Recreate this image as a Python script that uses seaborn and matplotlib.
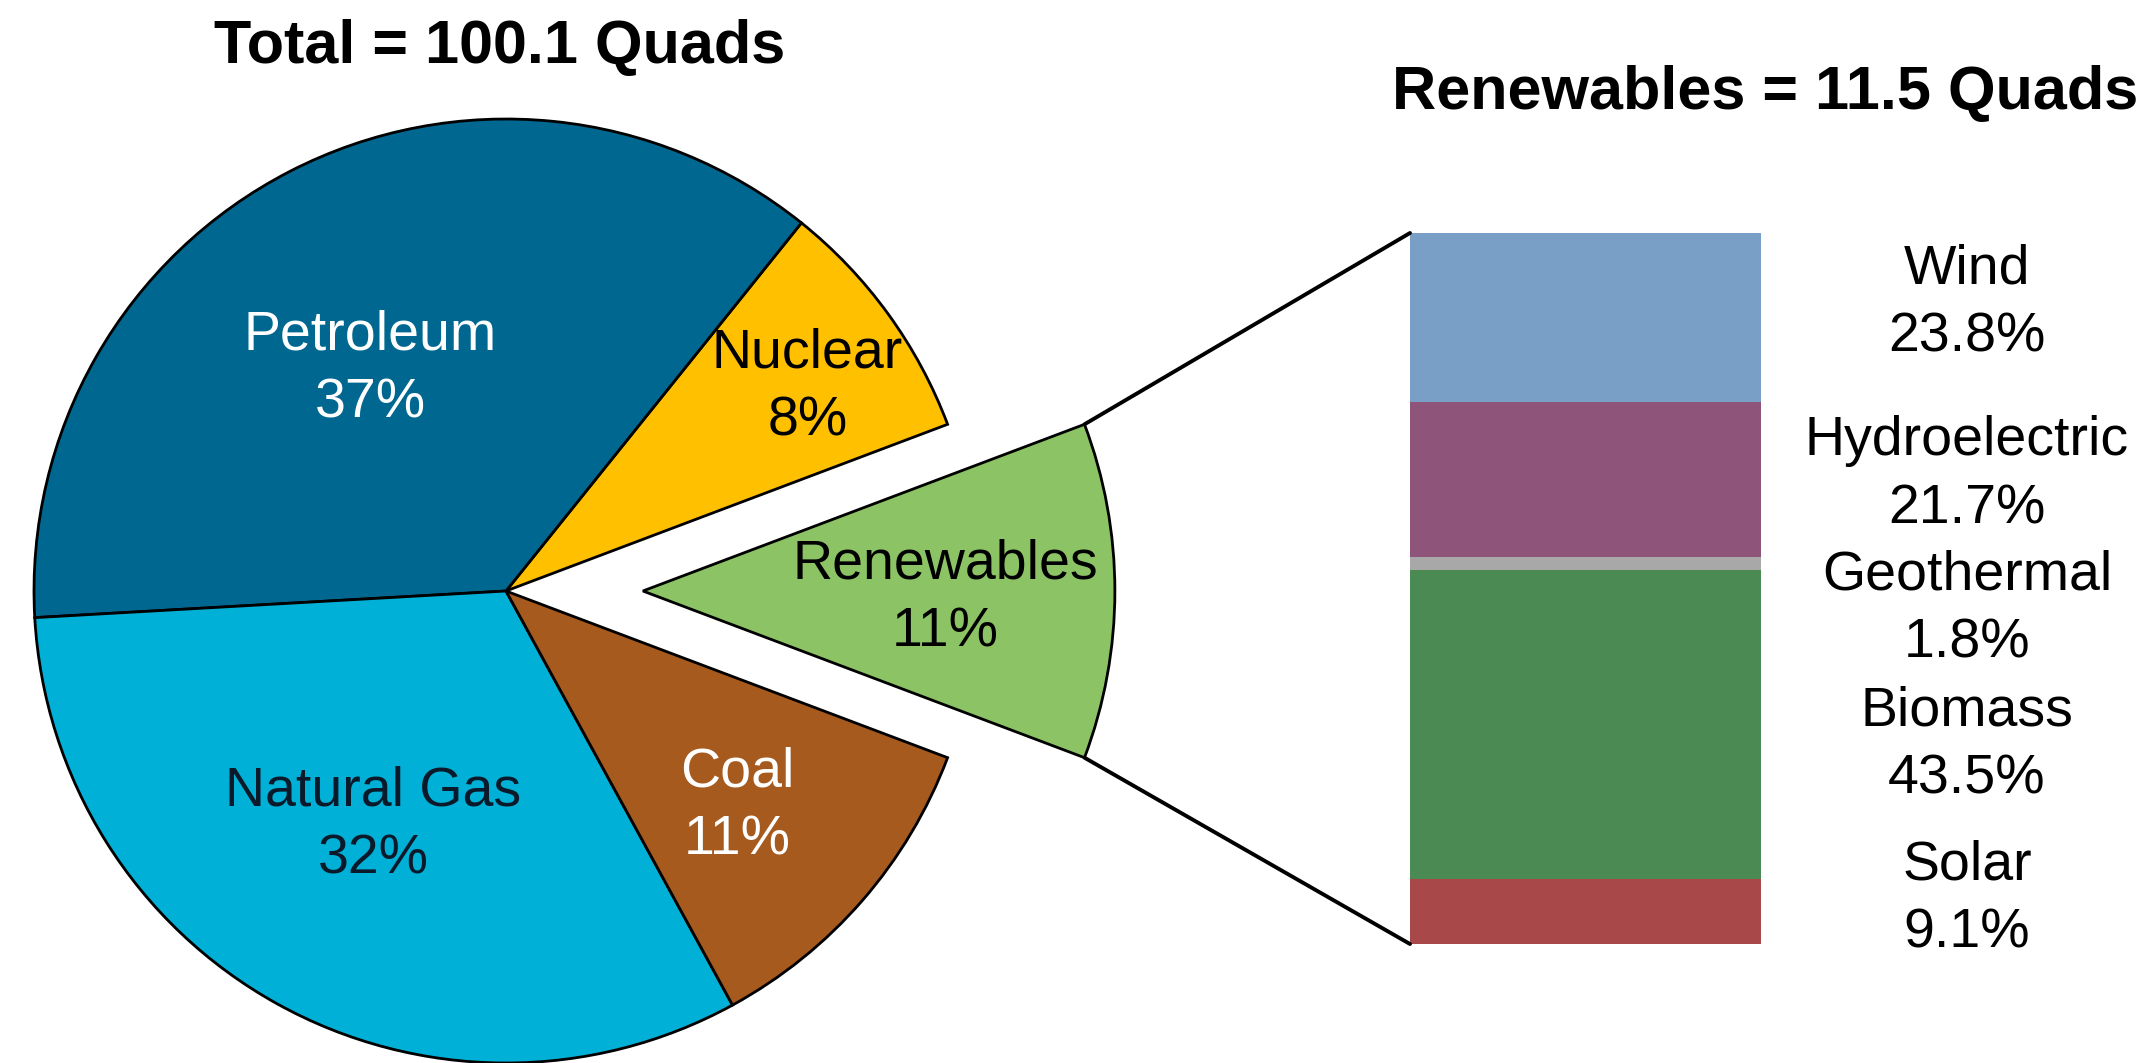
import numpy as np
import matplotlib
matplotlib.use("Agg")
import matplotlib.pyplot as plt
from matplotlib.patches import ConnectionPatch
import seaborn as sns
import pandas as pd

# ---- data ----
pie_labels = ["Renewables", "Nuclear", "Petroleum", "Natural Gas", "Coal"]
pie_values = [11.5, 8.5, 36.7, 32.1, 11.3]          # quads
pie_colors = ["#8CC465", "#FFC000", "#006890", "#00B0D6", "#A65A1E"]
pie_text_colors = ["black", "black", "white", "#0A1A2A", "white"]

ren_labels = ["Wind", "Hydroelectric", "Geothermal", "Biomass", "Solar"]   # top -> bottom
ren_values = [23.8, 21.7, 1.8, 43.5, 9.1]
ren_colors = ["#7A9FC7", "#8E547A", "#A8A8A8", "#4B8A52", "#A84848"]

total_title = "Total = 100.1 Quads"
ren_title = "Renewables = 11.5 Quads"

# ---- layout (pixels) ----
W, H = 2146, 1063
cx, cy, R = 506, 591, 472
explode_r = 0.29
label_r = [0.64, 0.77, 0.55, 0.57, 0.67]
label_da = [-1.5, -2.0, 4.3, -0.5, -2.0]   # angle tweaks (deg)
bar_left, bar_right, bar_top, bar_bottom = 1410, 1761, 233, 944
lab_x = 1967
lab_y = [304, 475, 610, 746, 900]

sns.set_theme(style="white")
plt.rcParams["font.family"] = ["Liberation Sans", "DejaVu Sans"]
plt.rcParams["text.color"] = "black"

fig = plt.figure(figsize=(W / 100, H / 100), dpi=100)

# pie axes covers whole figure, 1 unit = R px
ax = fig.add_axes([0, 0, 1, 1])
total = sum(pie_values)
start = -pie_values[0] / total * 360 / 2
explode = [explode_r] + [0] * (len(pie_values) - 1)
wedges, _ = ax.pie(pie_values, colors=pie_colors, startangle=start, counterclock=True,
                   explode=explode, wedgeprops=dict(edgecolor="black", linewidth=2.0),
                   radius=1.0)
ax.set_aspect("auto")
ax.set_xlim(-cx / R, (W - cx) / R)
ax.set_ylim(-(H - cy) / R, cy / R)
ax.axis("off")

for w, lab, v, r, da, tc, ex in zip(wedges, pie_labels, pie_values, label_r, label_da,
                                    pie_text_colors, explode):
    mid = np.deg2rad((w.theta1 + w.theta2) / 2)
    ox, oy = ex * np.cos(mid), ex * np.sin(mid)
    a = mid + np.deg2rad(da)
    pct = round(v / total * 100)
    ax.text(ox + r * np.cos(a), oy + r * np.sin(a), f"{lab}\n{pct}%",
            ha="center", va="center", fontsize=40, color=tc, linespacing=1.4)

# stacked bar axes
axb = fig.add_axes([bar_left / W, 1 - bar_bottom / H, (bar_right - bar_left) / W,
                    (bar_bottom - bar_top) / H])
df = pd.DataFrame({"source": ren_labels, "value": ren_values})
bottom_up = df.iloc[::-1].reset_index(drop=True)
bottom_up["cum"] = bottom_up["value"].cumsum()
# draw tallest cumulative first so lower segments overlay
for i in range(len(bottom_up) - 1, -1, -1):
    row = bottom_up.iloc[i]
    sns.barplot(x=[0], y=[row["cum"]], color=ren_colors[ren_labels.index(row["source"])],
                width=1.0, ax=axb, saturation=1, linewidth=0)
axb.set_xlim(-0.5, 0.5)
axb.set_ylim(0, bottom_up["cum"].iloc[-1])
axb.axis("off")

for lab, v, y in zip(ren_labels, ren_values, lab_y):
    fig.text(lab_x / W, 1 - y / H, f"{lab}\n{v:.1f}%", ha="center", va="center",
             fontsize=40, color="black", linespacing=1.4)

# connector lines from renewables wedge corners to bar corners
w0 = wedges[0]
mid0 = np.deg2rad((w0.theta1 + w0.theta2) / 2)
ox, oy = explode_r * np.cos(mid0), explode_r * np.sin(mid0)
top_pt = (ox + np.cos(np.deg2rad(w0.theta2)), oy + np.sin(np.deg2rad(w0.theta2)))
bot_pt = (ox + np.cos(np.deg2rad(w0.theta1)), oy + np.sin(np.deg2rad(w0.theta1)))
ymax = bottom_up["cum"].iloc[-1]
for pA, pB in [(top_pt, (-0.5, ymax)), (bot_pt, (-0.5, 0))]:
    con = ConnectionPatch(xyA=pA, coordsA=ax.transData, xyB=pB, coordsB=axb.transData,
                          color="black", linewidth=2.8)
    fig.add_artist(con)

fig.text(500 / W, 1 - 48 / H, total_title, ha="center", va="center", fontsize=44,
         fontweight="bold", color="black")
fig.text(1765 / W, 1 - 93 / H, ren_title, ha="center", va="center", fontsize=44,
         fontweight="bold", color="black")

fig.savefig("out.png", dpi=100)
